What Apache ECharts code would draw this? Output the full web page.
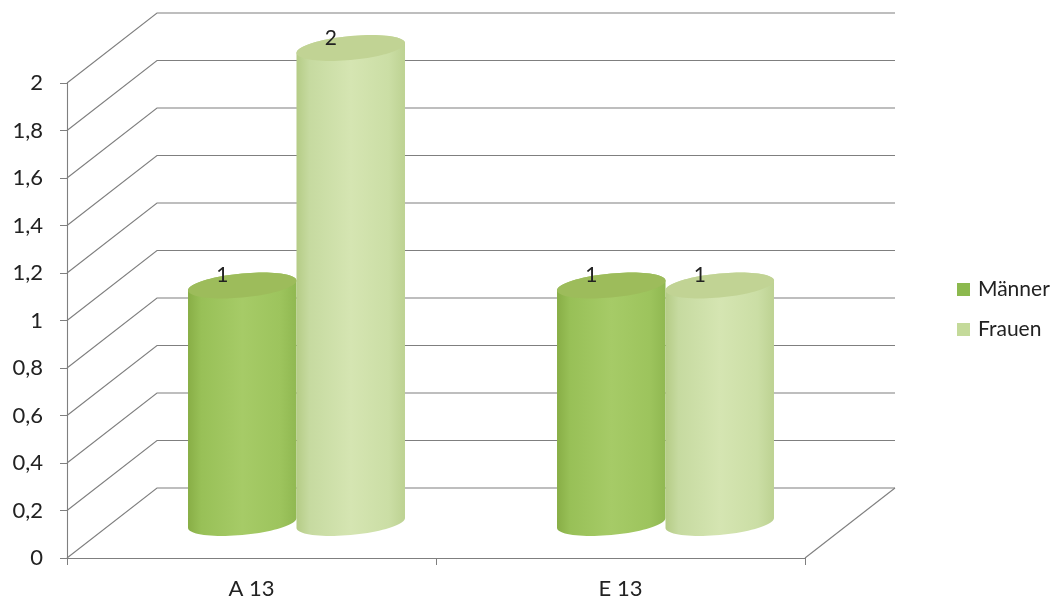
<!DOCTYPE html>
<html>
<head>
<meta charset="utf-8">
<script src="https://cdn.jsdelivr.net/npm/echarts@6/dist/echarts.min.js"></script>
<style>
  html, body { margin: 0; padding: 0; background: #ffffff; }
  #chart { width: 1059px; height: 602px; }
</style>
</head>
<body>
<div id="chart"></div>
<script>
// Categories and values per group
const categories = ['A 13', 'E 13'];
const maenner = [1, 1];
const frauen = [2, 1];
// Value-axis ticks (also used for the back-wall and side-wall lines)
const yTicks = [0, 0.2, 0.4, 0.6, 0.8, 1, 1.2, 1.4, 1.6, 1.8, 2];

// Depth offset of the back wall, in pixels
const DEPTH_X = 90;
const DEPTH_Y = -70;
const LINE = '#7f7f7f';
const FONT = 'Lato, "Open Sans", sans-serif';

const chart = echarts.init(document.getElementById('chart'), null, { renderer: 'canvas' });

function wallItem(params, api) {
  const cs = params.coordSys;
  const v = api.value(1);
  const y = api.coord([0, v])[1];
  const x0 = cs.x, x1 = cs.x + cs.width;
  const children = [{
    type: 'polyline',
    shape: { points: [[x0, y], [x0 + DEPTH_X, y + DEPTH_Y], [x1 + DEPTH_X, y + DEPTH_Y]] },
    style: { stroke: LINE, lineWidth: 1.1, fill: null }
  }];
  if (v === 0) {
    children.push({
      type: 'line',
      shape: { x1: x1, y1: y, x2: x1 + DEPTH_X, y2: y + DEPTH_Y },
      style: { stroke: LINE, lineWidth: 1.1 }
    });
  }
  return { type: 'group', children: children };
}

// Points of an ellipse sheared so the right side sits a little higher
function ellipsePts(cx, cy, rx, ry, t0, t1, n) {
  const tilt = 0.09;
  const pts = [];
  for (let i = 0; i <= n; i++) {
    const t = t0 + (t1 - t0) * i / n;
    pts.push([cx + rx * Math.cos(t), cy + ry * Math.sin(t) - tilt * rx * Math.cos(t)]);
  }
  return pts;
}

function cylinderRenderer(side, bodyStops, topColor) {
  return function (params, api) {
    const cat = api.value(0);
    const val = api.value(1);
    const band = api.size([1, 0])[0];
    const rx = band * 0.147;
    const base = api.coord([cat, 0]);
    const top = api.coord([cat, val]);
    const cx = base[0] + side * rx + DEPTH_X / 2;
    const by = base[1] + DEPTH_Y / 2;
    const ty = top[1] + DEPTH_Y / 2;
    const ry = 12;
    const body = ellipsePts(cx, by, rx, ry, 0, Math.PI, 40)
      .concat(ellipsePts(cx, ty, rx, ry, Math.PI, 2 * Math.PI, 40));
    const cap = ellipsePts(cx, ty, rx, ry, 0, 2 * Math.PI, 80);
    return {
      type: 'group',
      children: [
        {
          type: 'polygon',
          shape: { points: body },
          style: {
            fill: { type: 'linear', x: 0, y: 0, x2: 1, y2: 0, colorStops: bodyStops }
          }
        },
        {
          type: 'polygon',
          shape: { points: cap },
          style: { fill: topColor }
        },
        {
          type: 'text',
          x: cx - 20,
          y: ty - 10,
          style: {
            text: String(val),
            fill: '#222222',
            fontSize: 21,
            fontFamily: FONT,
            align: 'center',
            verticalAlign: 'middle'
          }
        }
      ]
    };
  };
}

const option = {
  backgroundColor: '#ffffff',
  animation: false,
  grid: { left: 67, right: 254, top: 83, bottom: 44 },
  legend: {
    orient: 'vertical',
    left: 952,
    top: 274,
    itemWidth: 13,
    itemHeight: 13,
    itemGap: 19,
    icon: 'rect',
    data: ['Männer', 'Frauen'],
    textStyle: { color: '#222222', fontSize: 21, fontFamily: FONT, padding: [0, 0, 0, 3] }
  },
  xAxis: {
    type: 'category',
    data: categories,
    axisLine: { show: true, lineStyle: { color: LINE, width: 1.1 } },
    axisTick: { show: true, length: 7, lineStyle: { color: LINE } },
    axisLabel: { color: '#222222', fontSize: 22, fontFamily: FONT, margin: 20 },
    splitLine: { show: false }
  },
  yAxis: {
    type: 'value',
    min: 0,
    max: 2,
    interval: 0.2,
    axisLine: { show: true, lineStyle: { color: LINE, width: 1.1 } },
    axisTick: { show: true, length: 7, lineStyle: { color: LINE } },
    axisLabel: {
      color: '#222222', fontSize: 22, fontFamily: FONT, margin: 24,
      formatter: v => String(+v.toFixed(1)).replace('.', ',')
    },
    splitLine: { show: false }
  },
  series: [
    {
      name: 'walls',
      type: 'custom',
      silent: true,
      z: 1,
      data: yTicks.map(v => [0, v]),
      renderItem: wallItem
    },
    {
      name: 'Männer',
      type: 'custom',
      z: 3,
      itemStyle: { color: '#8cb94e' },
      data: maenner.map((v, i) => [i, v]),
      renderItem: cylinderRenderer(-1, [
        { offset: 0, color: '#88ae46' },
        { offset: 0.12, color: '#98c057' },
        { offset: 0.5, color: '#a6cb67' },
        { offset: 0.85, color: '#9dc45d' },
        { offset: 1, color: '#90b851' }
      ], '#9dbc5b')
    },
    {
      name: 'Frauen',
      type: 'custom',
      z: 4,
      itemStyle: { color: '#c4da9a' },
      data: frauen.map((v, i) => [i, v]),
      renderItem: cylinderRenderer(1, [
        { offset: 0, color: '#b5cc86' },
        { offset: 0.12, color: '#c6daa0' },
        { offset: 0.5, color: '#d5e5b2' },
        { offset: 0.85, color: '#cbdea5' },
        { offset: 1, color: '#bdd292' }
      ], '#c1d394')
    }
  ]
};

chart.setOption(option);
</script>
</body>
</html>
